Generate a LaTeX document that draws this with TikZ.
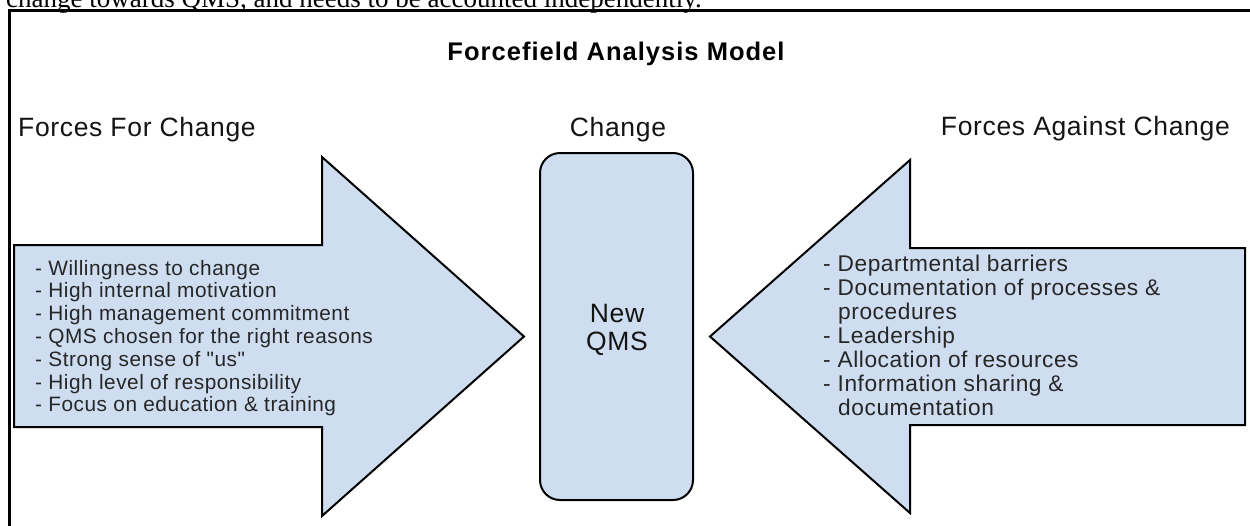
\documentclass[tikz,border=0pt]{standalone}
\usepackage{fontspec}
\setmainfont{Liberation Sans}
\newfontfamily\lsans{Liberation Sans}[LetterSpace=2.5]
\newfontfamily\lsansT{Liberation Sans}[LetterSpace=4]
\newfontfamily\lserif{Liberation Serif}
\definecolor{fillblue}{RGB}{206,222,240}
\begin{document}
\begin{tikzpicture}[x=1pt,y=-1pt,
  heading/.style={inner sep=0pt, font=\lsans\fontsize{26.5}{30}\selectfont, text=black!92},
  titletext/.style={inner sep=0pt, anchor=base, font=\lsansT\bfseries\fontsize{25.5}{29}\selectfont, text=black},
  listl/.style={inner sep=0pt, anchor=base west, font=\lsans\fontsize{20.8}{23}\selectfont, text=black!85},
  listr/.style={inner sep=0pt, anchor=base west, font=\lsans\fontsize{22.7}{24}\selectfont, text=black!85},
  arrowshape/.style={draw=black, line width=2pt, fill=fillblue, line join=miter},
  boxshape/.style={draw=black, line width=2pt, fill=fillblue, rounded corners=20pt},
  frameline/.style={draw=black, line width=3pt}
]
\useasboundingbox (0,0) rectangle (1250,525);
% clipped caption text of the surrounding page
\node[inner sep=0pt, anchor=base west, font=\lserif\fontsize{27}{32}\selectfont] (cap) at (6,7) {change towards QMS, and needs to be accounted independently.};
% frame
\draw[frameline] (9,540) -- (9,10) -- (1260,10);
% title
\node[titletext] (title) at (616,60) {Forcefield Analysis Model};
% headings
\node[heading, anchor=base west] (hfor) at (18,136) {Forces For Change};
\node[heading, anchor=base] (hchange) at (618,136) {Change};
\node[heading, anchor=base east] (hagainst) at (1230,135) {Forces Against Change};
% left arrow
\draw[arrowshape] (14,245) -- (322,245) -- (322,157) -- (524,336.5) -- (322,516) -- (322,427) -- (14,427) -- cycle;
% right arrow
\draw[arrowshape] (1245,248) -- (910,248) -- (910,160) -- (710,336.5) -- (910,513) -- (910,425) -- (1245,425) -- cycle;
% central box
\draw[boxshape] (540,153) rectangle (693,500);
\node[heading, anchor=base] (new) at (617,322) {New};
\node[heading, anchor=base] (qms) at (617,350) {QMS};
% left list
\node[listl] (l1) at (35,275) {- Willingness to change};
\node[listl] (l2) at (35,297.8) {- High internal motivation};
\node[listl] (l3) at (35,320.6) {- High management commitment};
\node[listl] (l4) at (35,343.4) {- QMS chosen for the right reasons};
\node[listl] (l5) at (35,366.2) {- Strong sense of "us"};
\node[listl] (l6) at (35,389) {- High level of responsibility};
\node[listl] (l7) at (35,411.8) {- Focus on education \& training};
% right list
\node[listr] (r1) at (823,271) {- Departmental barriers};
\node[listr] (r2) at (823,295) {- Documentation of processes \&};
\node[listr] (r3) at (838,319) {procedures};
\node[listr] (r4) at (823,343) {- Leadership};
\node[listr] (r5) at (823,367) {- Allocation of resources};
\node[listr] (r6) at (823,391) {- Information sharing \&};
\node[listr] (r7) at (838,415) {documentation};
\end{tikzpicture}
\end{document}
